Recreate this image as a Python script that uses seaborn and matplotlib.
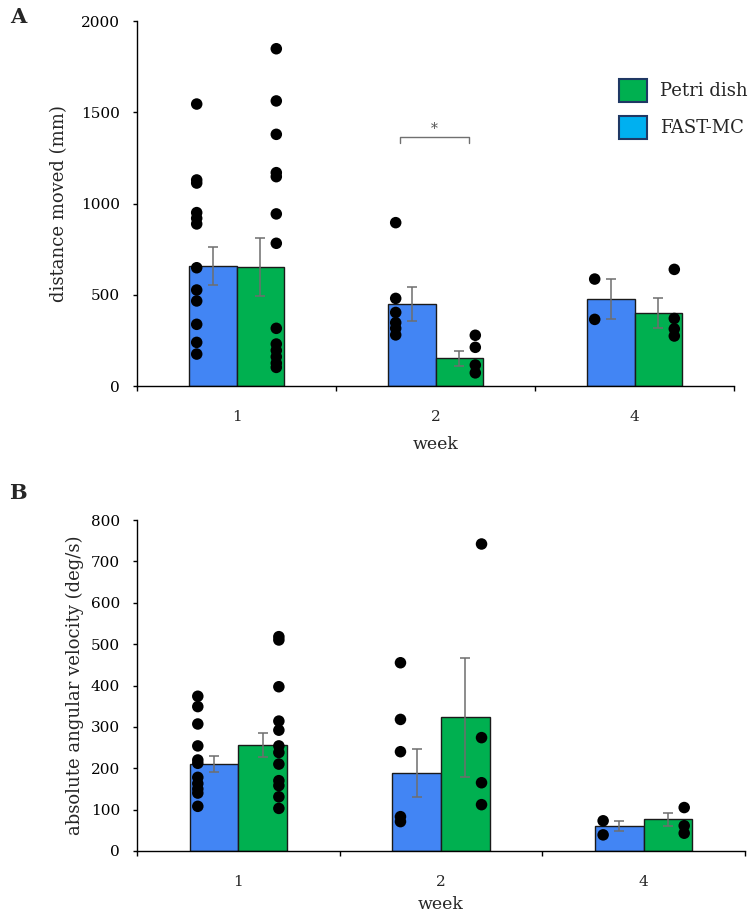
import numpy as np
import pandas as pd
import matplotlib
matplotlib.use("Agg")
import matplotlib.pyplot as plt
import matplotlib.patches as mpatches
from matplotlib.ticker import FixedLocator
import seaborn as sns

# ---------------- data ----------------
weeks = ["1", "2", "4"]
groups = ["FAST-MC", "Petri dish"]

# Panel A: distance moved (mm)
dist_mean_fast = [658, 449, 477]
dist_se_fast = [106, 94, 111]
dist_mean_petri = [652, 152, 398]
dist_se_petri = [157, 41, 82]
dist_pts_fast_w1 = [1545, 1129, 1112, 950, 919, 888, 648, 526, 466, 338, 239, 175]
dist_pts_fast_w2 = [895, 480, 403, 347, 316, 280]
dist_pts_fast_w4 = [586, 365]
dist_pts_petri_w1 = [1848, 1562, 1379, 1169, 1147, 943, 782, 316, 230, 195, 160, 125, 102]
dist_pts_petri_w2 = [278, 212, 115, 72]
dist_pts_petri_w4 = [639, 370, 313, 274]

# Panel B: absolute angular velocity (deg/s)
angv_mean_fast = [210, 188, 61]
angv_se_fast = [20, 58, 11.5]
angv_mean_petri = [256, 323, 77]
angv_se_petri = [29, 144, 16]
angv_pts_fast_w1 = [374, 349, 307, 254, 220, 212, 178, 163, 150, 140, 108]
angv_pts_fast_w2 = [455, 318, 240, 83, 71]
angv_pts_fast_w4 = [73, 39]
angv_pts_petri_w1 = [518, 510, 397, 314, 292, 254, 238, 210, 170, 158, 131, 103]
angv_pts_petri_w2 = [742, 274, 165, 112]
angv_pts_petri_w4 = [105, 61, 43]

bar_colors = {"FAST-MC": "#4285F4", "Petri dish": "#00B050"}
legend_colors = {"Petri dish": "#00B050", "FAST-MC": "#00B0F0"}

sns.set_style("ticks")
plt.rcParams["font.family"] = ["DejaVu Serif"]


def build_points(pts_fast, pts_petri):
    rows = []
    for w, vals in zip(weeks, pts_fast):
        rows += [(w, "FAST-MC", v) for v in vals]
    for w, vals in zip(weeks, pts_petri):
        rows += [(w, "Petri dish", v) for v in vals]
    return pd.DataFrame(rows, columns=["week", "group", "value"])


def draw_panel(ax, mean_fast, se_fast, mean_petri, se_petri, pts_df,
               ymax, ystep, ylabel, ylabelpad, xlabelpad):
    bar_df = pd.DataFrame({
        "week": weeks * 2,
        "group": [groups[0]] * 3 + [groups[1]] * 3,
        "value": list(mean_fast) + list(mean_petri),
    })
    sns.barplot(data=bar_df, x="week", y="value", hue="group", order=weeks,
                hue_order=groups, palette=bar_colors, saturation=1, width=0.48,
                errorbar=None, edgecolor="#1a1a1a", linewidth=1.0, ax=ax,
                legend=False, zorder=2)
    ses = {groups[0]: se_fast, groups[1]: se_petri}
    for cont, g in zip(ax.containers, groups):
        xs = [p.get_x() + p.get_width() / 2 for p in cont.patches]
        hs = [p.get_height() for p in cont.patches]
        ax.errorbar(xs, hs, yerr=ses[g], fmt="none", ecolor="#6e6e6e",
                    elinewidth=1.1, capsize=3.3, capthick=1.1, zorder=4)
    sns.stripplot(data=pts_df, x="week", y="value", hue="group", order=weeks,
                  hue_order=groups, dodge=True, jitter=False,
                  palette={g: "black" for g in groups}, size=8.3, linewidth=0,
                  ax=ax, legend=False, zorder=5)
    ax.set_xlim(-0.5, 2.5)
    ax.set_ylim(0, ymax)
    ax.set_yticks(np.arange(0, ymax + 1, ystep))
    ax.tick_params(axis="y", direction="out", length=2.9, width=1.0,
                   pad=9.4, labelsize=11, colors="black")
    ax.tick_params(axis="x", which="major", length=0, pad=17, labelsize=11)
    ax.xaxis.set_minor_locator(FixedLocator([-0.5, 0.5, 1.5, 2.5]))
    ax.tick_params(axis="x", which="minor", direction="out", length=3.6,
                   width=1.0, color="black")
    for s in ["top", "right"]:
        ax.spines[s].set_visible(False)
    for s in ["left", "bottom"]:
        ax.spines[s].set_linewidth(1.0)
        ax.spines[s].set_color("black")
    ax.set_xlabel("week", fontsize=12.5, labelpad=xlabelpad)
    ax.set_ylabel(ylabel, fontsize=13, labelpad=ylabelpad)


fig = plt.figure(figsize=(7.5, 9.14), dpi=100)
axA = fig.add_axes([137 / 750, 1 - 386 / 914, (734 - 137) / 750, (386 - 21) / 914])
axB = fig.add_axes([137 / 750, 1 - 851 / 914, (745 - 137) / 750, (851 - 520) / 914])

dist_df = build_points([dist_pts_fast_w1, dist_pts_fast_w2, dist_pts_fast_w4],
                       [dist_pts_petri_w1, dist_pts_petri_w2, dist_pts_petri_w4])
angv_df = build_points([angv_pts_fast_w1, angv_pts_fast_w2, angv_pts_fast_w4],
                       [angv_pts_petri_w1, angv_pts_petri_w2, angv_pts_petri_w4])

draw_panel(axA, dist_mean_fast, dist_se_fast, dist_mean_petri, dist_se_petri,
           dist_df, 2000, 500, "distance moved (mm)", 9, 9)
draw_panel(axB, angv_mean_fast, angv_se_fast, angv_mean_petri, angv_se_petri,
           angv_df, 800, 100, "absolute angular velocity (deg/s)", 5, 5)

# significance bracket (week 2)
axA.plot([0.82, 0.82, 1.17, 1.17], [1332, 1366, 1366, 1332],
         color="#707070", lw=1.0, zorder=3)
axA.text(0.995, 1410, "*", ha="center", va="center", fontsize=10, color="#555555")

# legend
handles = [mpatches.Patch(facecolor=legend_colors["Petri dish"], edgecolor="#1F3864", linewidth=1.5),
           mpatches.Patch(facecolor=legend_colors["FAST-MC"], edgecolor="#1F3864", linewidth=1.5)]
fig.legend(handles, ["Petri dish", "FAST-MC"], loc="upper left",
           bbox_to_anchor=(619 / 750, 1 - 79 / 914), bbox_transform=fig.transFigure,
           frameon=False, fontsize=13, handlelength=1.55, handleheight=1.55,
           handletextpad=0.7, labelspacing=0.8, borderpad=0, borderaxespad=0)

fig.text(18 / 750, 1 - 17 / 914, "A", fontsize=15, fontweight="bold", ha="center", va="center")
fig.text(18 / 750, 1 - 493 / 914, "B", fontsize=15, fontweight="bold", ha="center", va="center")

fig.savefig("out.png", dpi=100)
